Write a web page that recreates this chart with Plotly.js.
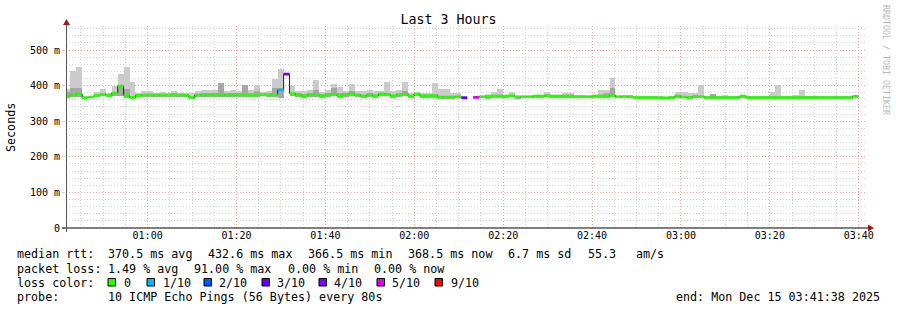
<!DOCTYPE html>
<html><head><meta charset="utf-8">
<script src="https://cdn.plot.ly/plotly-3.0.1.min.js"></script>
<style>html,body{margin:0;padding:0;background:#fff}#chart{width:897px;height:310px}</style>
</head><body><div id="chart"></div>
<script>
// ---------- data ----------
const dataStart = Date.UTC(2025, 11, 15, 0, 41, 16); // first 80 s step
const stepSec = 80;
const rangeStart = '2025-12-15 00:41:38';
const rangeEnd = '2025-12-15 03:41:38';

// median rtt per step (ms)
const median = [
 372,374,377,366,368,373,375,373,379,399,
 372,367,372,374,374,374,374,374,374,374,
 373,367,374,374,374,374,374,374,374,374,
 374,373,374,375,374,374,388,432.6,378,374,
 372,375,375,372,375,376,372,375,377,374,
 371,374,372,377,376,372,375,376,371,377,
 372,372,372,368,368,368,369,366,null,367,
 369,371,371,371,371,372,369,369,369,371,
 371,372,371,371,371,371,369,369,369,371,
 371,371,373,369,369,369,367,367,367,367,
 366,366,367,371,368,367,369,369,367,367,
 367,367,367,367,371,367,367,367,367,367,
 367,367,367,367,367,367,367,367,367,367,
 367,367,367,370];
// highest ping per step (ms)
const smokeMax = [
 391,440,453,371,372,382,390,380,399,433,
 453,410,380,386,386,380,383,380,386,380,
 380,378,384,387,389,389,407,384,387,384,
 403,389,401,382,384,419,446,434,399,386,
 384,387,416,381,389,404,396,384,404,384,
 384,387,384,384,410,384,387,411,380,380,
 380,380,406,391,391,380,378,370,null,370,
 372,374,383,390,371,381,371,371,371,373,
 373,381,375,373,380,380,375,375,371,373,
 387,387,421,371,375,375,369,369,369,371,
 371,369,371,381,381,380,380,401,371,377,
 369,375,369,371,373,369,369,369,369,381,
 401,369,369,375,387,371,371,369,369,369,
 369,371,371,375];
// lowest ping per step (ms)
const smokeMin = [
 366,368,368,362,364,368,370,368,370,372,
 366,362,368,369,369,369,369,369,369,369,
 368,362,369,369,369,369,369,369,369,369,
 369,368,369,370,369,369,365,428,372,368,
 366,369,369,366,369,370,366,369,371,368,
 366,368,366,371,370,366,369,370,366,371,
 366,366,366,363,363,363,364,362,null,362,
 364,362,366,366,366,367,362,364,364,366,
 366,367,366,366,366,366,364,364,364,366,
 366,366,368,364,364,364,362,362,362,362,
 362,362,362,366,366,362,364,364,362,362,
 362,362,362,362,366,362,362,362,362,362,
 362,362,362,362,362,362,362,362,362,362,
 362,362,362,365];
// top of the denser (darker) part of the smoke (ms)
const smokeInner = [
 382,394,393,368,370,376,378,376,382,399,
 390,372,376,377,377,376,377,376,378,376,
 376,370,377,378,380,380,407,378,379,378,
 403,380,386,377,378,392,392,null,380,378,
 376,378,388,376,380,392,380,378,386,377,
 374,378,375,380,380,375,378,385,374,380,
 375,375,376,372,372,371,372,null,null,null,
 372,372,374,374,373,374,371,371,371,373,
 373,375,373,373,374,374,371,371,371,373,
 374,380,393,371,371,371,369,369,369,369,
 368,368,369,374,372,370,373,372,369,376,
 369,369,369,369,373,369,369,369,369,371,
 371,369,369,369,372,369,369,369,369,369,
 369,369,369,372];
// lost pings out of 10 per step
const loss = [
 0,0,0,0,0,0,0,0,0,0,
 0,0,0,0,0,0,0,0,0,0,
 0,0,0,0,0,0,0,0,0,0,
 0,0,0,0,0,0,1,4,0,0,
 0,0,0,0,0,0,0,0,0,0,
 0,0,0,0,0,0,0,0,0,0,
 0,0,0,0,0,0,0,3,null,5,
 0,0,0,0,0,0,0,0,0,0,
 0,0,0,0,0,0,0,0,0,0,
 0,0,0,0,0,0,0,0,0,0,
 0,0,0,0,0,0,0,0,0,0,
 0,0,0,0,0,0,0,0,0,0,
 0,0,0,0,0,0,0,0,0,0,
 0,0,0,0];

const lossLevels = [0, 1, 2, 3, 4, 5, 9];
const lossLabels = ['0', '1/10', '2/10', '3/10', '4/10', '5/10', '9/10'];
const lossColors = ['#26ff00', '#00b8ff', '#0059ff', '#5e00ff', '#7e00ff', '#dd00ff', '#ff0000'];

const yTickVals = [0, 100, 200, 300, 400, 500];
const yTickText = ['0', '100 m', '200 m', '300 m', '400 m', '500 m'];

const titleText = 'Last 3 Hours';
const yTitle = 'Seconds';
const rttLabel = 'median rtt:';
const rttStats = ['370.5 ms avg', '432.6 ms max', '366.5 ms min', '368.5 ms now', '6.7 ms sd', '55.3', 'am/s'];
const lossLabel = 'packet loss:';
const lossStats = ['1.49 % avg', '91.00 % max', '0.00 % min', '0.00 % now'];
const colorLabel = 'loss color:';
const probeLabel = 'probe:';
const probeText = '10 ICMP Echo Pings (56 Bytes) every 80s';
const endText = 'end: Mon Dec 15 03:41:38 2025';
const sideText = 'RRDTOOL / TOBI OETIKER';

// ---------- build ----------
const n = median.length;
const stepMs = stepSec * 1000;
const centers = [], starts = [];
for (let i = 0; i < n; i++) {
  starts.push(dataStart + i * stepMs);
  centers.push(dataStart + i * stepMs + stepMs / 2);
}
const outerH = smokeMax.map((v, i) => (v == null || smokeMin[i] == null) ? null : v - smokeMin[i]);
const innerH = smokeInner.map((v, i) => (v == null || smokeMin[i] == null) ? null : v - smokeMin[i]);

const traces = [];
traces.push({type: 'bar', x: centers, y: outerH, base: smokeMin, width: stepMs,
  marker: {color: '#cbcbcb', line: {width: 0}}, hoverinfo: 'skip', showlegend: false});
traces.push({type: 'bar', x: centers, y: innerH, base: smokeMin, width: stepMs,
  marker: {color: '#a6a6a6', line: {width: 0}}, hoverinfo: 'skip', showlegend: false});

// black median step line
const lx = starts.concat([dataStart + n * stepMs]);
const ly = median.concat([median[n - 1]]);
traces.push({type: 'scatter', mode: 'lines', x: lx, y: ly, line: {color: '#202020', width: 1, shape: 'hv'},
  connectgaps: false, hoverinfo: 'skip', showlegend: false});

// loss-coloured median bands
function levelIndex(l) { for (let k = 0; k < lossLevels.length; k++) if (l <= lossLevels[k]) return k; return lossLevels.length - 1; }
lossLevels.forEach((lv, k) => {
  const xs = [], ys = [];
  for (let i = 0; i < n; i++) {
    if (median[i] == null || loss[i] == null) continue;
    if (levelIndex(loss[i]) !== k) continue;
    xs.push(starts[i], starts[i] + stepMs, null);
    ys.push(median[i], median[i], null);
  }
  if (xs.length) traces.push({type: 'scatter', mode: 'lines', x: xs, y: ys,
    line: {color: lossColors[k], width: 2.6}, hoverinfo: 'skip', showlegend: false});
});

// ---------- layout helpers ----------
const L = 66, R = 31, T = 26, B = 82, W = 897, H = 310;
const PW = W - L - R, PH = H - T - B;
const px = X => (X - L) / PW;
const py = Y => (H - B - Y) / PH;
const mono = 'DejaVu Sans Mono, monospace';

const annotations = [];
function txt(X, Y, s, opts) {
  annotations.push(Object.assign({xref: 'paper', yref: 'paper', x: px(X), y: py(Y), text: s, showarrow: false,
    xanchor: 'left', yanchor: 'middle', font: {family: mono, size: 11.7, color: '#000'}, borderpad: 0}, opts || {}));
}
const lineY = [254, 268.5, 282.5, 297];
txt(16, lineY[0], rttLabel);
[107, 207, 307, 406.5, 506.5, 586.5, 635].forEach((X, k) => txt(X, lineY[0], rttStats[k]));
txt(16, lineY[1], lossLabel);
[107, 193, 286.5, 372.5].forEach((X, k) => txt(X, lineY[1], lossStats[k]));
txt(16, lineY[2], colorLabel);
const sqX = [108, 147, 204, 262, 319, 377, 435];
const labX = [123, 161.5, 218, 276, 333, 390.5, 450];
const shapes = [];
lossColors.forEach((c, k) => {
  shapes.push({type: 'rect', xref: 'paper', yref: 'paper', x0: px(sqX[k]), x1: px(sqX[k] + 7.5),
    y0: py(286), y1: py(278.5), fillcolor: c, line: {color: '#000', width: 1}});
  txt(labX[k], lineY[2], lossLabels[k]);
});
txt(16, lineY[3], probeLabel);
txt(107, lineY[3], probeText);
txt(881, lineY[3], endText, {xanchor: 'right'});
// y axis title
txt(11, 127, yTitle, {xanchor: 'center', textangle: -90});
// side watermark
txt(886, 60, sideText, {xanchor: 'center', textangle: 90, font: {family: mono, size: 8.3, color: '#b8b8b8'}});

// axis lines and arrows
shapes.push({type: 'line', xref: 'paper', yref: 'paper', x0: px(62), x1: px(868), y0: py(228), y1: py(228),
  line: {color: '#000', width: 1}});
shapes.push({type: 'line', xref: 'paper', yref: 'paper', x0: px(66.5), x1: px(66.5), y0: py(232), y1: py(24),
  line: {color: '#555', width: 1}});
shapes.push({type: 'path', xref: 'paper', yref: 'paper',
  path: `M ${px(868)} ${py(224.5)} L ${px(874)} ${py(228)} L ${px(868)} ${py(231.5)} Z`,
  fillcolor: '#a01818', line: {color: '#a01818', width: 0}});
shapes.push({type: 'path', xref: 'paper', yref: 'paper',
  path: `M ${px(63)} ${py(25)} L ${px(66.5)} ${py(19)} L ${px(70)} ${py(25)} Z`,
  fillcolor: '#a01818', line: {color: '#a01818', width: 0}});

const layout = {
  width: W, height: H,
  margin: {l: L, r: R, t: T, b: B, pad: 0},
  paper_bgcolor: '#ffffff', plot_bgcolor: '#ffffff',
  title: {text: titleText, x: 0.5, xanchor: 'center', y: 1 - 19 / H, yref: 'container', yanchor: 'middle',
    font: {family: mono, size: 13.3, color: '#000'}},
  barmode: 'overlay', bargap: 0,
  showlegend: false,
  xaxis: {type: 'date', range: [rangeStart, rangeEnd], tickformat: '%H:%M',
    tick0: '2025-12-15 01:00:00', dtick: 1200000,
    showgrid: true, gridcolor: '#f2a0a0', griddash: '1px,2px', gridwidth: 1,
    minor: {tick0: '2025-12-15 01:00:00', dtick: 300000, showgrid: true, gridcolor: '#d2d2d2', griddash: '1px,2px', gridwidth: 1, ticks: ''},
    ticks: '', ticklabelstandoff: 0,
    tickfont: {family: mono, size: 10, color: '#000'},
    showline: false, zeroline: false, fixedrange: true},
  yaxis: {range: [0, PH / 0.356], tickvals: yTickVals, ticktext: yTickText,
    showgrid: true, gridcolor: '#f2a0a0', griddash: '1px,2px', gridwidth: 1,
    minor: {dtick: 20, tick0: 0, showgrid: true, gridcolor: '#d2d2d2', griddash: '1px,2px', gridwidth: 1, ticks: ''},
    ticks: 'outside', ticklen: 3, tickcolor: '#cccccc',
    tickfont: {family: mono, size: 10, color: '#000'},
    showline: false, zeroline: false, fixedrange: true},
  annotations: annotations,
  shapes: shapes
};

Plotly.newPlot('chart', traces, layout, {staticPlot: true, displayModeBar: false});
</script>
</body></html>
